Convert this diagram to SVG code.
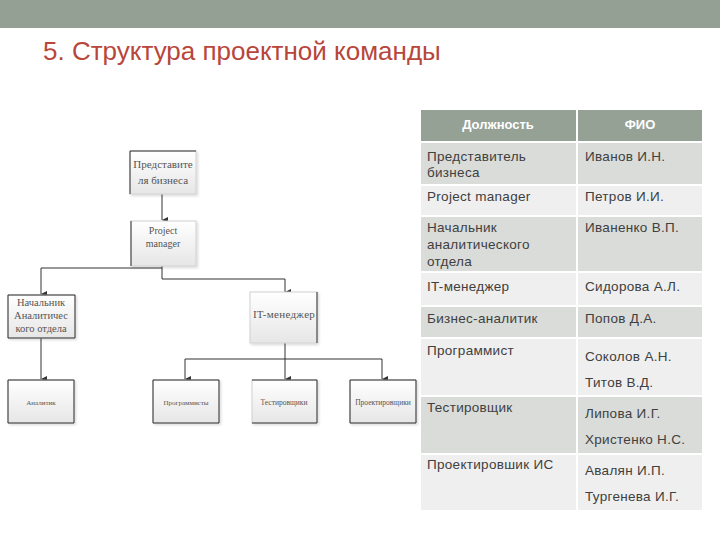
<svg xmlns="http://www.w3.org/2000/svg" width="720" height="540" viewBox="0 0 720 540">
<defs>
<linearGradient id="bg" x1="0" y1="0" x2="0" y2="1">
<stop offset="0" stop-color="#ffffff"/>
<stop offset="1" stop-color="#e6e6e6"/>
</linearGradient>
<marker id="ah" markerWidth="6" markerHeight="6" refX="3" refY="6" orient="auto" markerUnits="userSpaceOnUse" viewBox="0 0 6 6">
<path d="M0,0 L6,0 L3,6 Z" fill="#333"/>
</marker>
<filter id="sh" x="-10%" y="-10%" width="130%" height="130%">
<feDropShadow dx="1.5" dy="1.5" stdDeviation="1" flood-color="#000" flood-opacity="0.15"/>
</filter>
</defs>
<style>
.box{fill:url(#bg);stroke:#d0d0d0;stroke-width:1;filter:url(#sh)}
.dk{stroke:#333;stroke-width:1;fill:none}
.bt{font-family:"Liberation Serif",serif;fill:#555;text-anchor:middle}
.con{stroke:#333;stroke-width:1;fill:none}
.ca{stroke:#333;stroke-width:1;fill:none;marker-end:url(#ah)}
.tt{font-family:"Liberation Sans",Arial,sans-serif;font-size:13.5px;letter-spacing:0.3px;fill:#404040}
.th{font-family:"Liberation Sans",Arial,sans-serif;font-size:13px;font-weight:bold;fill:#fff;text-anchor:middle}
.rd{fill:#d9dcd9}
.rl{fill:#efefef}
</style>
<rect x="0" y="0" width="720" height="28" fill="#93a093"/>
<text x="43" y="60" font-family="Liberation Sans, Arial, sans-serif" font-size="26" fill="#b8463a">5. Структура проектной команды</text>

<g id="connectors">
<line class="ca" x1="162" y1="194" x2="162" y2="220"/>
<path class="con" d="M162,266 V279"/>
<path class="ca" d="M162,268 H41 V294"/>
<path class="ca" d="M162,279 H285 V292"/>
<path class="ca" d="M41,338 V379"/>
<path class="con" d="M285,343 V359 M185,359 H382"/>
<path class="ca" d="M185,359 V379"/>
<path class="ca" d="M285,359 V379"/>
<path class="ca" d="M382,359 V379"/>
</g>

<g id="n-business">
<rect class="box" x="130" y="151" width="66" height="43"/>
<path class="dk" d="M130,194 V151 H196"/>
<text class="bt" font-size="11" x="163" y="168">Представите</text>
<text class="bt" font-size="11" x="163" y="184">ля бизнеса</text>
</g>
<g id="n-pm">
<rect class="box" x="131" y="221" width="65" height="45"/>
<path class="dk" d="M131,221 V266"/>
<text class="bt" font-size="10" x="163" y="234">Project</text>
<text class="bt" font-size="10" x="163" y="247">manager</text>
</g>
<g id="n-head">
<rect class="box" x="8" y="295" width="67" height="43"/>
<path class="dk" d="M8,295 H75 V338 H8 Z"/>
<text class="bt" font-size="10.5" x="41" y="306">Начальник</text>
<text class="bt" font-size="10.5" x="41" y="319">Аналитичес</text>
<text class="bt" font-size="10.5" x="41" y="332">кого отдела</text>
</g>
<g id="n-it">
<rect class="box" x="250" y="292" width="67" height="51"/>
<path class="dk" d="M317,292 V343"/>
<text class="bt" font-size="11" letter-spacing="0.3" x="284" y="318">IT-менеджер</text>
</g>
<g id="n-analyst">
<rect class="box" x="8" y="380" width="66" height="43"/>
<path class="dk" d="M8,380 H74 V423 H8 Z"/>
<text class="bt" font-size="7" x="41" y="405">Аналитик</text>
</g>
<g id="n-prog">
<rect class="box" x="153" y="380" width="66" height="43"/>
<path class="dk" d="M153,380 H219 V423 H153 Z"/>
<text class="bt" font-size="7" x="186" y="405">Программисты</text>
</g>
<g id="n-test">
<rect class="box" x="252" y="380" width="65" height="43"/>
<path class="dk" d="M252,380 H317 V423 H252"/>
<text class="bt" font-size="7.5" x="284" y="405">Тестировщики</text>
</g>
<g id="n-design">
<rect class="box" x="350" y="380" width="66" height="43"/>
<path class="dk" d="M350,380 H416 V423 H350 Z"/>
<text class="bt" font-size="7.5" x="383" y="405">Проектировщики</text>
</g>

<g id="table">
<rect x="421" y="110" width="281" height="31" fill="#96a196"/>
<rect class="rd" x="421" y="143" width="281" height="41"/>
<rect class="rl" x="421" y="186" width="281" height="29"/>
<rect class="rd" x="421" y="217" width="281" height="54"/>
<rect class="rl" x="421" y="273" width="281" height="32"/>
<rect class="rd" x="421" y="307" width="281" height="30"/>
<rect class="rl" x="421" y="339" width="281" height="56"/>
<rect class="rd" x="421" y="397" width="281" height="56"/>
<rect class="rl" x="421" y="455" width="281" height="55"/>
<line x1="577" y1="110" x2="577" y2="510" stroke="#fff" stroke-width="2"/>
<text class="th" x="498" y="129">Должность</text>
<text class="th" x="640" y="129">ФИО</text>
<text class="tt" x="427" y="161">Представитель</text>
<text class="tt" x="427" y="177">бизнеса</text>
<text class="tt" x="585" y="161">Иванов И.Н.</text>
<text class="tt" x="427" y="201">Project manager</text>
<text class="tt" x="585" y="201">Петров И.И.</text>
<text class="tt" x="427" y="232">Начальник</text>
<text class="tt" x="427" y="249">аналитического</text>
<text class="tt" x="427" y="266">отдела</text>
<text class="tt" x="585" y="232">Иваненко В.П.</text>
<text class="tt" x="427" y="291">IT-менеджер</text>
<text class="tt" x="585" y="291">Сидорова А.Л.</text>
<text class="tt" x="427" y="323">Бизнес-аналитик</text>
<text class="tt" x="585" y="323">Попов Д.А.</text>
<text class="tt" x="427" y="355">Программист</text>
<text class="tt" x="585" y="361">Соколов А.Н.</text>
<text class="tt" x="585" y="387">Титов В.Д.</text>
<text class="tt" x="427" y="412">Тестировщик</text>
<text class="tt" x="585" y="418">Липова И.Г.</text>
<text class="tt" x="585" y="444">Христенко Н.С.</text>
<text class="tt" x="427" y="469">Проектировшик ИС</text>
<text class="tt" x="585" y="475">Авалян И.П.</text>
<text class="tt" x="585" y="501">Тургенева И.Г.</text>
</g>
</svg>
